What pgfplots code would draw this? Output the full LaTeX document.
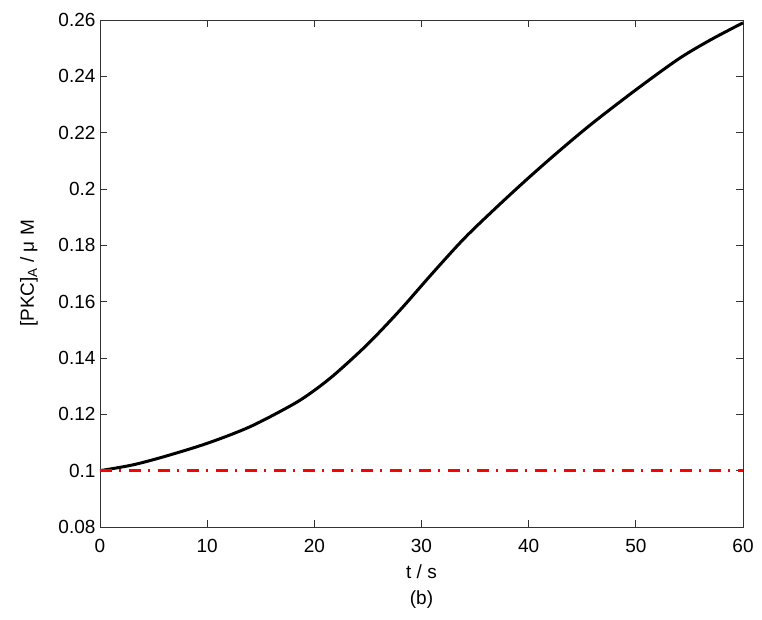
\documentclass[border=0pt]{standalone}
\usepackage{fontspec}
\setmainfont{Liberation Sans}
\usepackage{pgfplots}
\pgfplotsset{compat=1.18}

% PKC activation vs time, panel (b)
\pgfplotstableread{
t     pkc
0     0.1000
3     0.1020
6     0.1050
10    0.1097
14    0.1156
18    0.1235
20    0.1285
22    0.1345
25    0.1450
28    0.1570
31    0.1700
34    0.1825
37    0.1935
40    0.2040
43    0.2140
46    0.2235
50    0.2352
54    0.2462
57    0.2530
60    0.2590
}\pkcdata

\begin{document}
\begin{tikzpicture}[font=\fontsize{19}{22}\selectfont]
\begin{axis}[
    width=643pt, height=507pt, scale only axis,
    clip=false,
    xmin=0, xmax=60,
    ymin=0.08, ymax=0.26,
    xtick={0,10,20,30,40,50,60},
    ytick={0.08,0.1,0.12,0.14,0.16,0.18,0.2,0.22,0.24,0.26},
    tick align=inside,
    major tick length=7pt,
    axis line style={black!80, line width=0.8pt},
    tick style={black!80, line width=0.8pt},
    tick label style={font=\fontsize{19}{22}\selectfont},
    label style={font=\fontsize{19}{22}\selectfont},
    /pgf/number format/assume math mode=true,
    yticklabel style={/pgf/number format/fixed, /pgf/number format/precision=2, xshift=-1pt},
    xticklabel style={yshift=-9pt},
    xlabel={t / s},
    ylabel={[PKC]\textsubscript{A} / μ M},
    xlabel style={at={(rel axis cs:0.5,0)}, anchor=center, yshift=-45pt},
    ylabel style={at={(rel axis cs:0,0.5)}, anchor=center, rotate=0, yshift=71pt},
]
\addplot[black, line width=3pt, smooth] table[x=t, y=pkc] {\pkcdata};
\addplot[red, line width=3.5pt, line cap=butt,
    dash pattern=on 12pt off 7pt on 2pt off 8pt] coordinates {(0,0.1) (60,0.1)};
\node[anchor=center] at (rel axis cs:0.5,0) [yshift=-73pt] {(b)};
\end{axis}
\pgfresetboundingbox
\useasboundingbox ([shift={(-100pt,-93pt)}]current axis.south west) rectangle ([shift={(19pt,20pt)}]current axis.north east);
\end{tikzpicture}
\end{document}
